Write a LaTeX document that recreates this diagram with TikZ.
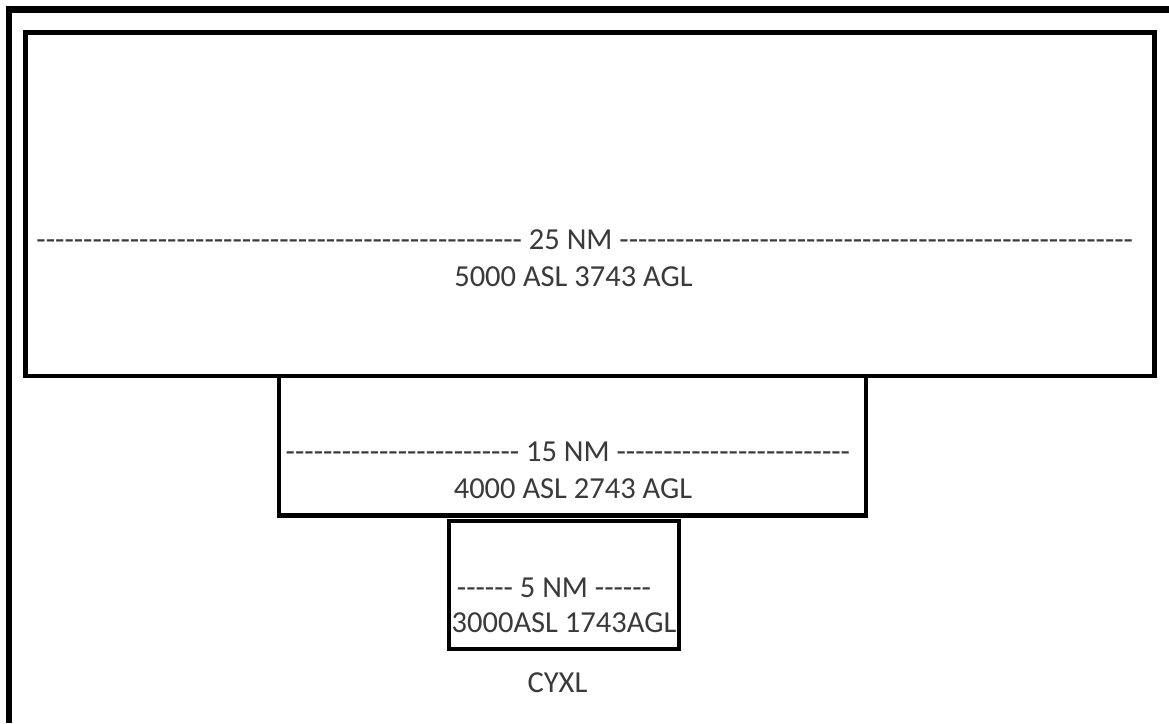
\documentclass[tikz,border=0pt]{standalone}
\usepackage{fontspec}
\usetikzlibrary{positioning}
\newfontfamily\zonefont{Carlito}
\definecolor{zoneink}{HTML}{3A3A3A}
\newcommand\dashrun[1]{\foreach \k in {1,...,#1}{-}}

\begin{document}
\begin{tikzpicture}[x=0.025cm,y=-0.025cm,
    zone/.style={draw=black,line width=3.2pt},
    lbl/.style={font=\zonefont\fontsize{21.7}{25.6}\selectfont,text=zoneink,inner sep=0pt}]
  \useasboundingbox[fill=white] (0,0) rectangle (1169,723);
  \draw[line width=4.3pt] (1169,9.5) -- (9,9.5) -- (9,723);
  % airspace rings
  \draw[zone] (25.5,32.5) rectangle (1154.5,376);
  \draw[zone] (279,376) rectangle (866,515.5);
  \draw[zone] (449,521) rectangle (679,649);
  % labels
  \node[lbl] (outerrng) at (585,239.5) {\dashrun{52} 25 NM \dashrun{55}};
  \node[lbl] (outeralt) at (573.5,276.5) {5000 ASL 3743 AGL};
  \node[lbl] (midrng) at (568,451.5) {\dashrun{25} 15 NM \dashrun{25}};
  \node[lbl] (midalt) at (573,488.5) {4000 ASL 2743 AGL};
  \node[lbl] (innerrng) at (554,588) {\dashrun{6} 5 NM \dashrun{6}};
  \node[lbl] (inneralt) at (564,623) {3000ASL 1743AGL};
  \node[lbl] (field) at (557.5,683) {CYXL};
\end{tikzpicture}
\end{document}
